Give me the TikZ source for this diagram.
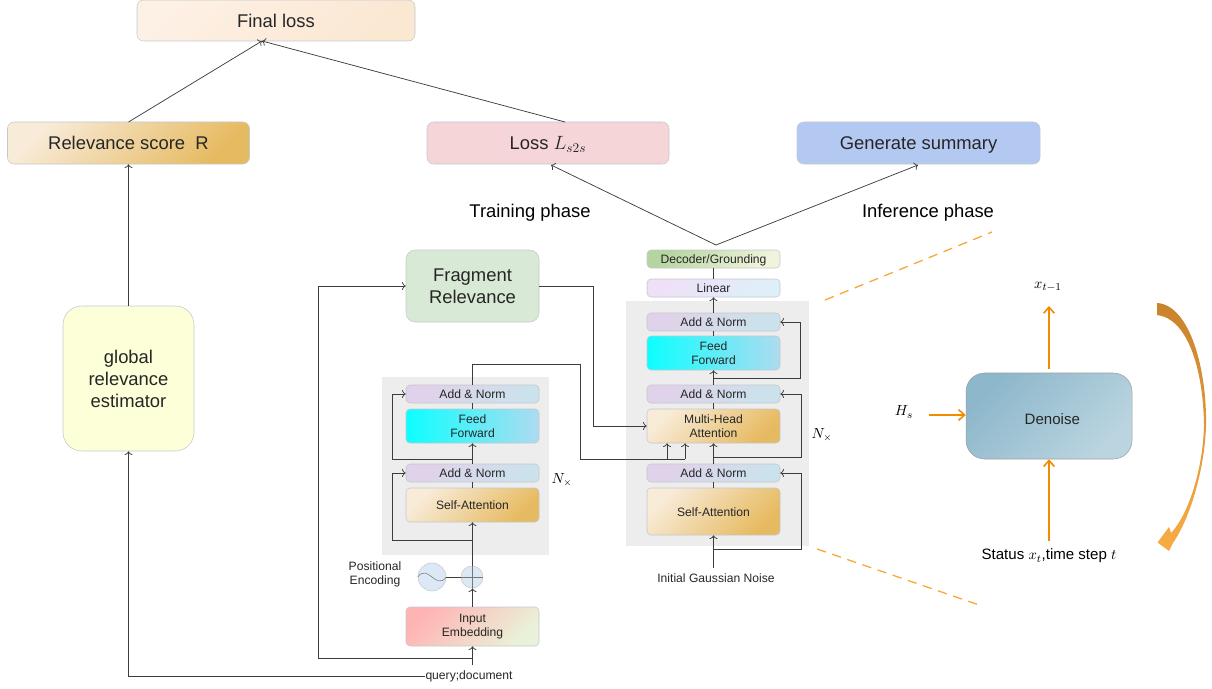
\documentclass[tikz,border=0pt]{standalone}
\usepackage{amsmath}
\usepackage{fontspec}
\setmainfont{Liberation Sans}
\usepackage{tikz}
\usetikzlibrary{arrows.meta}
\definecolor{edgegray}{HTML}{C4C8CC}
\definecolor{linegray}{HTML}{3C3C3C}
\definecolor{panelgray}{HTML}{EDEDED}
\definecolor{orangeline}{HTML}{F08C00}
\definecolor{orangedash}{HTML}{F7A93C}
\definecolor{peacha}{HTML}{FDF0E4}
\definecolor{peachb}{HTML}{FBE8D3}
\definecolor{golda}{HTML}{F8EBD8}
\definecolor{goldm}{HTML}{F3E0BF}
\definecolor{goldb}{HTML}{E6BA60}
\definecolor{lossred}{HTML}{F6D5D8}
\definecolor{sumblue}{HTML}{B4C9F1}
\definecolor{fraggreen}{HTML}{D8E9D5}
\definecolor{globyellow}{HTML}{FDFFD9}
\definecolor{decgreen}{HTML}{B5D5A0}
\definecolor{decpale}{HTML}{F0F4DC}
\definecolor{linpurple}{HTML}{EFE0F8}
\definecolor{linblue}{HTML}{DEEFFA}
\definecolor{addpurple}{HTML}{E0D2EA}
\definecolor{addblue}{HTML}{CBE2EC}
\definecolor{ffcyan}{HTML}{0CFFFF}
\definecolor{ffblue}{HTML}{AEDBF0}
\definecolor{embred}{HTML}{FFB4B4}
\definecolor{embgreen}{HTML}{E9F2D8}
\definecolor{denoisea}{HTML}{8DB7CB}
\definecolor{denoiseb}{HTML}{C9DDE5}
\definecolor{denoisec}{HTML}{BBD5E0}
\definecolor{circblue}{HTML}{DDE8F6}
\definecolor{crescenta}{HTML}{C8832C}
\definecolor{crescentb}{HTML}{F9AC44}
\tikzset{
  bigfont/.style={font=\fontsize{13.8}{16.5}\selectfont},
  smallfont/.style={font=\fontsize{9.1}{10.5}\selectfont},
  oneline/.style={text height=8.2pt, text depth=1pt},
  bigline/.style={text height=12pt, text depth=2pt},
  box/.style={draw=edgegray, rounded corners=5pt, align=center, inner sep=0pt, text=black!85},
  bigbox/.style={box, bigfont},
  smallbox/.style={box, smallfont, rounded corners=3pt, minimum width=99.75pt},
  grad/.style 2 args={left color=#1, right color=#2, shading angle=45},
  goldgrad/.style={left color=golda, middle color=goldm, right color=goldb, shading angle=45},
  addnorm/.style={smallbox, oneline, grad={addpurple}{addblue}, minimum height=13.5pt},
  attn/.style={smallbox, goldgrad},
  feedfwd/.style={smallbox, left color=ffcyan, right color=ffblue, minimum height=25.5pt},
  lbl/.style={smallfont, text=black!85, inner sep=0pt, align=center},
  panel/.style={fill=panelgray, draw=none},
  wire/.style={->, linegray, line width=0.55pt},
  plainwire/.style={linegray, line width=0.55pt},
  orangearrow/.style={-{Straight Barb[length=4.5pt,width=8pt]}, orangeline, line width=1.2pt},
  orangedashed/.style={orangedash, line width=1pt, dash pattern=on 7pt off 5pt}
}
\begin{document}
\begin{tikzpicture}[x=0.75pt,y=-0.75pt]
  \useasboundingbox (0,0) rectangle (1212,688);

  \node[panel, minimum width=125.25pt, minimum height=133.5pt] (panelL) at (465.5,466) {};
  \node[panel, minimum width=137.25pt, minimum height=183.75pt] (panelR) at (717.5,423.5) {};

  \node[bigbox, bigline, grad={peacha}{peachb}, minimum width=208.5pt, minimum height=30.75pt] (final) at (276,20.5) {Final loss};
  \node[bigbox, bigline, goldgrad, minimum width=181.5pt, minimum height=31.5pt] (score) at (128.5,143) {Relevance score~~R};
  \node[bigbox, bigline, fill=lossred, minimum width=181.5pt, minimum height=31.5pt] (loss) at (548,143) {Loss $L_{s2s}$};
  \node[bigbox, bigline, fill=sumblue, minimum width=182.25pt, minimum height=31.5pt] (summary) at (918.5,143) {Generate summary};
  \node[bigbox, fill=fraggreen, minimum width=99.75pt, minimum height=54pt, rounded corners=7pt] (frag) at (472.5,286) {Fragment\\Relevance};
  \node[bigbox, fill=globyellow, minimum width=98.25pt, minimum height=108.75pt, rounded corners=14pt] (glob) at (128.5,378.5) {global\\relevance\\estimator};

  \node[smallbox, oneline, grad={decgreen}{decpale}, minimum height=13.5pt] (decoder) at (713.5,259) {Decoder/Grounding};
  \node[smallbox, oneline, grad={linpurple}{linblue}, minimum height=13.5pt] (linear) at (713.5,288) {Linear};
  \node[addnorm] (addRa) at (713.5,322) {Add \& Norm};
  \node[feedfwd] (feedR) at (713.5,353) {Feed\\Forward};
  \node[addnorm] (addRb) at (713.5,394) {Add \& Norm};
  \node[attn, minimum height=25.5pt] (multi) at (713.5,426) {Multi-Head\\Attention};
  \node[addnorm] (addRc) at (713.5,473) {Add \& Norm};
  \node[attn, oneline, minimum height=35.25pt] (selfR) at (713.5,511.5) {Self-Attention};
  \node[lbl] (noise) at (716,578) {Initial Gaussian Noise};

  \node[addnorm] (addLa) at (472.5,394) {Add \& Norm};
  \node[feedfwd] (feedL) at (472.5,426) {Feed\\Forward};
  \node[addnorm] (addLb) at (472.5,473) {Add \& Norm};
  \node[attn, oneline, minimum height=25.5pt] (selfL) at (472.5,505) {Self-Attention};
  \node[draw=edgegray, fill=circblue, circle, minimum size=21pt, inner sep=0pt] (posenc) at (432,577) {};
  \node[draw=edgegray, fill=circblue, circle, minimum size=16.5pt, inner sep=0pt] (plus) at (472,577) {};
  \node[lbl] (poslabel) at (375,574.5) {Positional\\Encoding};
  \node[smallbox, grad={embred}{embgreen}, minimum height=29.25pt] (embed) at (472.5,626.5) {Input\\Embedding};
  \node[lbl] (query) at (469,676) {query;document};

  \node[bigfont, bigline, inner sep=0pt] (train) at (530,211) {Training phase};
  \node[bigfont, bigline, inner sep=0pt] (infer) at (928,211) {Inference phase};
  \node[inner sep=0pt, font=\fontsize{10.5}{12}\selectfont] (nxL) at (562,480) {$N_{\times}$};
  \node[inner sep=0pt, font=\fontsize{10.5}{12}\selectfont] (nxR) at (822,435) {$N_{\times}$};

  \node[box, draw=edgegray!80!black, left color=denoisea, middle color=denoiseb, right color=denoisec, shading angle=45, minimum width=124.5pt, minimum height=64.5pt, rounded corners=14pt, font=\fontsize{11.3}{13}\selectfont, text height=13pt, text depth=0.5pt] (denoise) at (1049,416) {\hspace*{5pt}Denoise};
  \node[inner sep=0pt, font=\fontsize{11}{13}\selectfont] (xprev) at (1048,287) {$x_{t-1}$};
  \node[inner sep=0pt, font=\fontsize{11}{13}\selectfont] (hs) at (904,412) {$H_s$};
  \node[inner sep=0pt, font=\fontsize{11.3}{13}\selectfont] (status) at (1049,556) {Status $x_t$,time step $t$};

  % free ends and bends
  \coordinate (apex) at (716,245);
  \coordinate (target) at (262,41);
  \coordinate (scoretop) at (128.5,122);
  \coordinate (losstop) at (565,122);
  \coordinate (summarytip) at (918,165);
  \coordinate (losstip) at (551,165);
  \coordinate (skipRa) at (713.5,378);
  \coordinate (bendRa) at (800,378);
  \coordinate (skipRb) at (713.5,457);
  \coordinate (bendRb) at (801,457);
  \coordinate (skipRc) at (713.5,549);
  \coordinate (bendRc) at (801,549);
  \coordinate (noisetop) at (713.5,568);
  \coordinate (skipLa) at (472.5,459);
  \coordinate (bendLa) at (392,459);
  \coordinate (skipLb) at (472.5,540);
  \coordinate (bendLb) at (392,540);
  \coordinate (crossa) at (472.5,364);
  \coordinate (crossb) at (580,364);
  \coordinate (crossc) at (580,459);
  \coordinate (crossd) at (685,459);
  \coordinate (crosse) at (667,459);
  \coordinate (fragbend) at (593,286);
  \coordinate (split) at (472.5,658);
  \coordinate (splitb) at (318,658);
  \coordinate (inputend) at (472.5,665);
  \coordinate (prevstart) at (1049,369);
  \coordinate (prevtip) at (1049,306);
  \coordinate (hsstart) at (929,415);
  \coordinate (statustop) at (1049,541);

  \path (scoretop) edge[wire] (target);
  \path (losstop) edge[wire] (target);
  \path (apex) edge[wire] (losstip);
  \path (apex) edge[wire] (summarytip);
  \path (glob.north) edge[wire] (score.south);

  \path (decoder.south) edge[plainwire] (linear.north);
  \path (addRa.north) edge[wire] (linear.south);
  \path (feedR.north) edge[plainwire] (addRa.south);
  \path (addRb.north) edge[wire] (feedR.south);
  \path (multi.north) edge[plainwire] (addRb.south);
  \path (addRc.north) edge[wire] (multi.south);
  \path (selfR.north) edge[plainwire] (addRc.south);
  \path (noisetop) edge[wire] (selfR.south);
  \draw[wire] (skipRa) -- (bendRa) |- (addRa.east);
  \draw[wire] (skipRb) -- (bendRb) |- (addRb.east);
  \draw[wire] (skipRc) -- (bendRc) |- (addRc.east);

  \path (selfL.north) edge[plainwire] (addLb.south);
  \path (feedL.north) edge[plainwire] (addLa.south);
  \path (addLb.north) edge[wire] (feedL.south);
  \path (plus.north -| selfL.south) edge[wire] (selfL.south);
  \path (embed.north) edge[wire] (plus.south -| embed.north);
  \path (posenc.east) edge[plainwire] (plus.west);
  \path (inputend) edge[wire] (embed.south);
  \draw[wire] (skipLa) -- (bendLa) |- (addLa.west);
  \draw[wire] (skipLb) -- (bendLb) |- (addLb.west);

  \draw[plainwire] (addLa.north) -- (crossa) -- (crossb) -- (crossc) -- (crossd);
  \draw[wire] (crossd) -- (multi.south -| crossd);
  \draw[wire] (crosse) -- (multi.south -| crosse);
  \draw[wire] (frag.east) -- (fragbend) |- (multi.west);
  \draw[plainwire] (inputend) -- (split);
  \draw[wire] (split) -- (splitb) |- (frag.west);
  \draw[wire] (query.west) -| (glob.south);

  % sine and cross of the encoding circles
  \draw[linegray!70, line width=0.4pt] (posenc.west) .. controls (428,563) and (436,591) .. (posenc.east);
  \draw[linegray!70, line width=0.4pt] (plus.west) -- (plus.east) (plus.north) -- (plus.south);

  \path (prevstart) edge[orangearrow] (prevtip);
  \draw[orangearrow] (hsstart) -- (denoise.west |- hsstart);
  \path (statustop) edge[orangearrow] (denoise.south);

  \draw[orangedashed] (825,300) -- (992,232);
  \draw[orangedashed] (817,549) -- (982,606);

  \shade[top color=crescenta, bottom color=crescentb]
    (1157,303) .. controls (1190,305) and (1207,370) .. (1206,425)
    .. controls (1205,465) and (1192,515) .. (1173,543)
    -- (1169,551) -- (1157.5,542.5) -- (1169,527) -- (1171,533)
    .. controls (1188,515) and (1203,470) .. (1204,425)
    .. controls (1203,365) and (1186,318) .. (1157,315) -- cycle;
\end{tikzpicture}
\end{document}
